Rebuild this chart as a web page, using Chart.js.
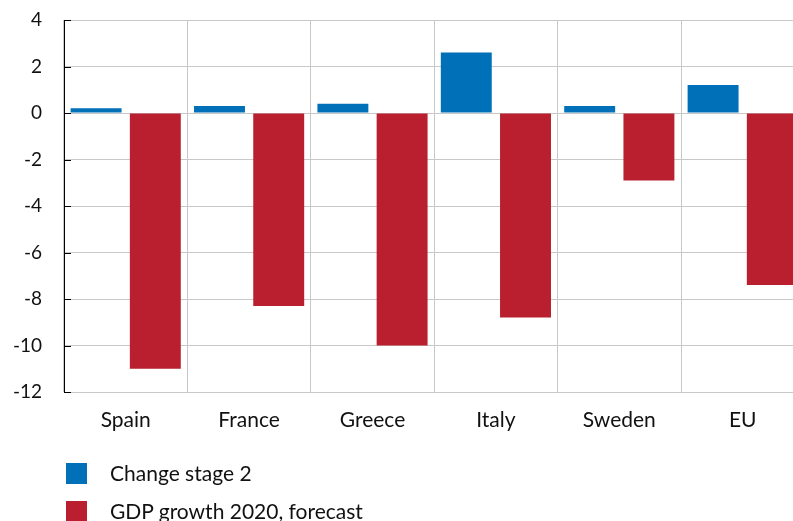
<!DOCTYPE html>
<html>
<head>
<meta charset="utf-8">
<script src="https://cdn.jsdelivr.net/npm/chart.js@4.4.0/dist/chart.umd.min.js"></script>
<style>
  html, body { margin: 0; padding: 0; background: #fff; overflow: hidden; }
  #wrap { position: relative; width: 806px; height: 521px; }
  #legend { position: absolute; left: 66px; top: 463px; font-family: Lato, sans-serif; font-size: 21px; color: #111; }
  .item { position: relative; height: 38px; }
  .box { position: absolute; left: 0; top: 0; width: 21px; height: 21px; }
  .txt { position: absolute; left: 44px; top: -2px; line-height: 24px; white-space: nowrap; }
</style>
</head>
<body>
<div id="wrap">
  <canvas id="chart" width="806" height="521"></canvas>
  <div id="legend"></div>
</div>
<script>
var countries = ['Spain', 'France', 'Greece', 'Italy', 'Sweden', 'EU'];
var changeStage2 = [0.2, 0.3, 0.4, 2.6, 0.3, 1.2];
var gdpGrowth2020 = [-11.0, -8.3, -10.0, -8.8, -2.9, -7.4];
var seriesNames = ['Change stage 2', 'GDP growth 2020, forecast'];
var seriesColors = ['#0070b8', '#b91f2e'];

var chart = (function () {
  'use strict';

  // little black ticks drawn inside the plot, next to the y axis
  var innerTicks = {
    id: 'innerTicks',
    afterDatasetsDraw: function (c) {
      var y = c.scales.y;
      var ctx = c.ctx;
      ctx.save();
      ctx.strokeStyle = '#000';
      ctx.lineWidth = 1;
      y.ticks.forEach(function (t) {
        var py = Math.round(y.getPixelForValue(t.value)) + 0.5;
        ctx.beginPath();
        ctx.moveTo(y.right, py);
        ctx.lineTo(y.right + 7, py);
        ctx.stroke();
      });
      ctx.restore();
    }
  };

  function buildLegend () {
    var html = '';
    for (var i = 0; i < seriesNames.length; i++) {
      html += '<div class="item"><div class="box" style="background:' + seriesColors[i] +
        '"></div><div class="txt">' + seriesNames[i] + '</div></div>';
    }
    document.getElementById('legend').innerHTML = html;
  }

  function init () {
    buildLegend();
    var ctx = document.getElementById('chart');
    return new Chart(ctx, {
      type: 'bar',
      data: {
        labels: countries,
        datasets: [{
          label: seriesNames[0],
          data: changeStage2,
          backgroundColor: seriesColors[0]
        }, {
          label: seriesNames[1],
          data: gdpGrowth2020,
          backgroundColor: seriesColors[1]
        }]
      },
      options: {
        responsive: false,
        animation: false,
        layout: { padding: { top: 20, right: 1.6, bottom: 69, left: 0 } },
        datasets: {
          bar: { categoryPercentage: 0.96, barPercentage: 0.86 }
        },
        plugins: {
          legend: { display: false },
          tooltip: { enabled: false }
        },
        scales: {
          x: {
            afterFit: function (s) { s.height = 60; },
            grid: { color: '#c8c8c8', lineWidth: 1, drawTicks: false, offset: true },
            border: { color: '#c8c8c8' },
            ticks: { padding: 16, color: '#111', font: { family: 'Lato', size: 21 } }
          },
          y: {
            min: -12,
            max: 4,
            afterFit: function (s) {
              s.width = 64;
              // tick padding should not push the plot down
              s.paddingTop = 0;
              s.paddingBottom = 0;
            },
            grid: { color: '#c8c8c8', lineWidth: 1, drawTicks: false },
            border: { color: '#000', width: 1 },
            ticks: { stepSize: 2, padding: 22, color: '#111', font: { family: 'Lato', size: 19 } }
          }
        }
      },
      plugins: [innerTicks]
    });
  }

  return { init: init };
}());

chart.init();
</script>
</body>
</html>
